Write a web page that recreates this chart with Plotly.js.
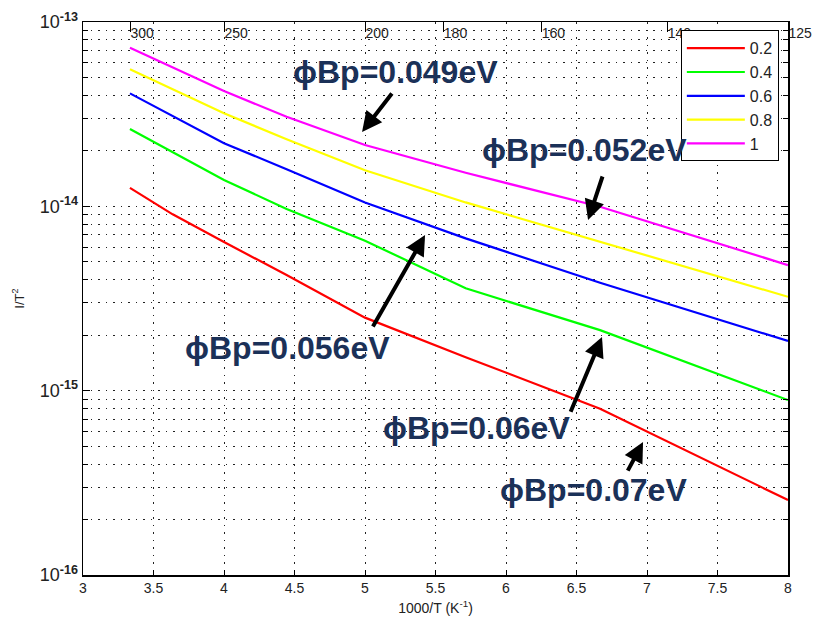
<!DOCTYPE html>
<html>
<head>
<meta charset="utf-8">
<script src="https://cdn.plot.ly/plotly-3.0.1.min.js"></script>
<style>html,body{margin:0;padding:0;background:#fff;}#chart{width:817px;height:630px;}</style>
</head>
<body>
<div id="chart"></div>
<script>
// 1000/T (K^-1)
const invT = [3.333, 3.636, 4.0, 4.444, 5.0, 5.714, 6.667, 8.0];
const seriesNames = ['0.2', '0.4', '0.6', '0.8', '1'];
const red     = [1.26e-14, 9.05e-15, 6.40e-15, 4.24e-15, 2.49e-15, 1.52e-15, 7.98e-16, 2.55e-16];
const green   = [2.63e-14, 1.97e-14, 1.39e-14, 9.67e-15, 6.51e-15, 3.59e-15, 2.13e-15, 8.89e-16];
const blue    = [4.10e-14, 3.09e-14, 2.20e-14, 1.59e-14, 1.05e-14, 6.70e-15, 3.85e-15, 1.86e-15];
const yellow  = [5.54e-14, 4.30e-14, 3.20e-14, 2.31e-14, 1.57e-14, 1.05e-14, 6.43e-15, 3.23e-15];
const magenta = [7.26e-14, 5.70e-14, 4.22e-14, 3.06e-14, 2.15e-14, 1.52e-14, 9.95e-15, 4.80e-15];
const seriesValues = [red, green, blue, yellow, magenta];
const seriesColors = ['#ff0000', '#00ff00', '#0000ff', '#ffff00', '#ff00ff'];

const xTicks = [3, 3.5, 4, 4.5, 5, 5.5, 6, 6.5, 7, 7.5, 8];
const xTickText = ['3', '3.5', '4', '4.5', '5', '5.5', '6', '6.5', '7', '7.5', '8'];
const topTemps = [300, 250, 200, 180, 160, 140, 125];
const yExps = [-16, -15, -14, -13];

const labels = ['ϕBp=0.049eV', 'ϕBp=0.052eV', 'ϕBp=0.056eV', 'ϕBp=0.06eV', 'ϕBp=0.07eV'];

const traces = seriesValues.map((v, i) => ({
  x: invT, y: v, type: 'scatter', mode: 'lines', name: seriesNames[i],
  line: {color: seriesColors[i], width: 2.2}
}));
// invisible companion trace so the top (temperature) axis is drawn
traces.push({x: invT, y: red, xaxis: 'x2', type: 'scatter', mode: 'lines', showlegend: false,
  hoverinfo: 'skip', line: {color: 'rgba(0,0,0,0)', width: 0}});

const minorVals = [];
for (let e = -16; e < -13; e++) for (let m = 2; m <= 9; m++) minorVals.push(m * Math.pow(10, e));

const gridCol = '#222';
const gridDash = '1.5px,6px';
const narrow = 'Liberation Sans Narrow, Liberation Sans, Arial';
const tickFont = {family: narrow, size: 14, color: '#222'};

// text labels (center positions in data coords: x, log10 y)
const labelPos = [[5.213, -13.271], [6.56, -13.695], [4.447, -14.769], [5.794, -15.203], [6.624, -15.539]];
// arrows: [headX, headLogY, tailX, tailLogY]
const arrows = [
  [4.979, -13.597, 5.199, -13.380],
  [6.582, -14.074, 6.688, -13.830],
  [5.426, -14.156, 5.050, -14.660],
  [6.681, -14.709, 6.454, -15.122],
  [6.972, -15.279, 6.858, -15.442]
];
const annotations = [];
labels.forEach((t, i) => annotations.push({
  x: labelPos[i][0], y: labelPos[i][1], xref: 'x', yref: 'y', text: '<b>' + t + '</b>',
  showarrow: false, font: {family: 'Liberation Sans, Arial', size: 32, color: '#1b3158'}
}));
arrows.forEach(a => annotations.push({
  x: a[0], y: a[1], ax: a[2], ay: a[3], axref: 'x', ayref: 'y', xref: 'x', yref: 'y',
  text: '', showarrow: true, arrowhead: 2, arrowsize: 1, arrowwidth: 4, arrowcolor: '#000'
}));

const layout = {
  width: 817, height: 630,
  margin: {l: 83, r: 29, t: 22, b: 55},
  paper_bgcolor: '#fff', plot_bgcolor: '#fff',
  showlegend: true,
  legend: {x: 0.848, y: 0.985, xanchor: 'left', yanchor: 'top', bgcolor: '#fff',
           bordercolor: '#000', borderwidth: 1, font: {family: narrow, size: 16, color: '#222'},
           itemwidth: 58, tracegroupgap: 0},
  xaxis: {
    range: [3, 8], tickmode: 'array', tickvals: xTicks, ticktext: xTickText,
    ticks: 'inside', ticklen: 5, tickcolor: '#000', showline: true, linecolor: '#000', linewidth: 1.5,
    mirror: true, showgrid: true, gridcolor: gridCol, griddash: gridDash, gridwidth: 1, zeroline: false,
    tickfont: tickFont, ticklabeloverflow: 'allow',
    title: {text: '1000/T (K<sup>-1</sup>)', font: {family: narrow, size: 14, color: '#222'}, standoff: 8}
  },
  xaxis2: {
    overlaying: 'x', side: 'top', anchor: 'y', range: [3, 8], tickmode: 'array',
    tickvals: topTemps.map(T => 1000 / T), ticktext: topTemps.map(String),
    ticks: 'inside', ticklen: 10, tickcolor: '#000', ticklabelposition: 'inside right',
    ticklabeloverflow: 'allow',
    showgrid: false, showline: false, zeroline: false, tickfont: tickFont
  },
  yaxis: {
    type: 'log', range: [-16, -13], tickmode: 'array',
    tickvals: yExps.map(e => Math.pow(10, e)), ticktext: yExps.map(e => '10<sup><b>' + e + '</b></sup>'),
    ticks: 'inside', ticklen: 7, tickcolor: '#000', showline: true, linecolor: '#000', linewidth: 1.5,
    mirror: 'ticks', showgrid: true, gridcolor: gridCol, griddash: gridDash, gridwidth: 1, zeroline: false,
    tickfont: {family: narrow, size: 18, color: '#222'}, ticklabeloverflow: 'allow',
    minor: {tickmode: 'array', tickvals: minorVals, ticks: 'inside', ticklen: 5, tickcolor: '#000',
            showgrid: true, gridcolor: gridCol, griddash: gridDash, gridwidth: 1},
    title: {text: 'I/T<sup>2</sup>', font: {family: narrow, size: 13, color: '#222'}, standoff: 12}
  },
  annotations: annotations
};

Plotly.newPlot('chart', traces, layout, {displayModeBar: false, staticPlot: true});
</script>
</body>
</html>
